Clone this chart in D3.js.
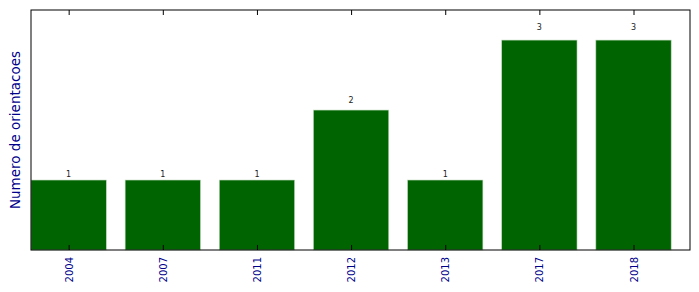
<!DOCTYPE html>
<html>
<head>
<meta charset="utf-8">
<script src="https://cdn.jsdelivr.net/npm/d3@7"></script>
<style>
  body { margin: 0; background: #fff; }
  svg { display: block; font-family: "DejaVu Sans", sans-serif; }
</style>
</head>
<body>
<svg id="chart" width="699" height="292"></svg>
<script>
var years = ['2004', '2007', '2011', '2012', '2013', '2017', '2018'];
var counts = [1, 1, 1, 2, 1, 3, 3];

var width = 699, height = 292;
var margin = { top: 10, right: 9, bottom: 42, left: 31 };
var innerW = width - margin.left - margin.right;
var innerH = height - margin.top - margin.bottom;

var svg = d3.select('#chart');
var g = svg.append('g')
  .attr('transform', 'translate(' + margin.left + ',' + margin.top + ')');

// bars centred on integer positions, width 0.8 (like matplotlib)
var x = d3.scaleLinear().domain([-0.4, years.length - 0.4]).range([0, innerW]);
var y = d3.scaleLinear().domain([0, 3.43]).range([innerH, 0]);

g.selectAll('rect.bar')
  .data(counts)
  .enter().append('rect')
  .attr('class', 'bar')
  .attr('x', function (d, i) { return x(i - 0.4); })
  .attr('width', x(0.8) - x(0))
  .attr('y', function (d) { return y(d); })
  .attr('height', function (d) { return innerH - y(d); })
  .attr('fill', '#006400')
  .attr('stroke', '#b9d8b9')
  .attr('stroke-width', 0.6);

// value labels (bottom of text at 1.05 * height)
g.selectAll('text.val')
  .data(counts)
  .enter().append('text')
  .attr('class', 'val')
  .attr('x', function (d, i) { return x(i); })
  .attr('y', function (d) { return y(d * 1.05); })
  .attr('text-anchor', 'middle')
  .attr('font-size', '8px')
  .attr('fill', '#222')
  .text(function (d) { return d; });

// ticks on bottom and top, pointing inward
var tickIdx = d3.range(years.length);
var bottomAxis = d3.axisBottom(x).tickValues(tickIdx)
  .tickSize(-5).tickFormat(function (i) { return years[i]; });
var topAxis = d3.axisTop(x).tickValues(tickIdx)
  .tickSize(-5).tickFormat('');

var bx = g.append('g')
  .attr('transform', 'translate(0,' + innerH + ')')
  .call(bottomAxis);
bx.select('.domain').remove();
bx.selectAll('.tick line').attr('stroke', '#000');
bx.selectAll('.tick text')
  .attr('font-family', '"DejaVu Sans", sans-serif')
  .attr('font-size', '10px')
  .attr('fill', '#00008b')
  .attr('transform', 'rotate(-90)')
  .attr('text-anchor', 'end')
  .attr('x', -7)
  .attr('y', 0)
  .attr('dy', '0.35em');

var tx = g.append('g').call(topAxis);
tx.select('.domain').remove();
tx.selectAll('.tick line').attr('stroke', '#000');

// frame
g.append('rect')
  .attr('width', innerW)
  .attr('height', innerH)
  .attr('fill', 'none')
  .attr('stroke', '#000')
  .attr('stroke-width', 1);

// y label
svg.append('text')
  .attr('transform', 'translate(20,' + (margin.top + innerH / 2) + ') rotate(-90)')
  .attr('text-anchor', 'middle')
  .attr('font-size', '13.5px')
  .attr('fill', '#00008b')
  .text('Numero de orientacoes');
</script>
</body>
</html>
